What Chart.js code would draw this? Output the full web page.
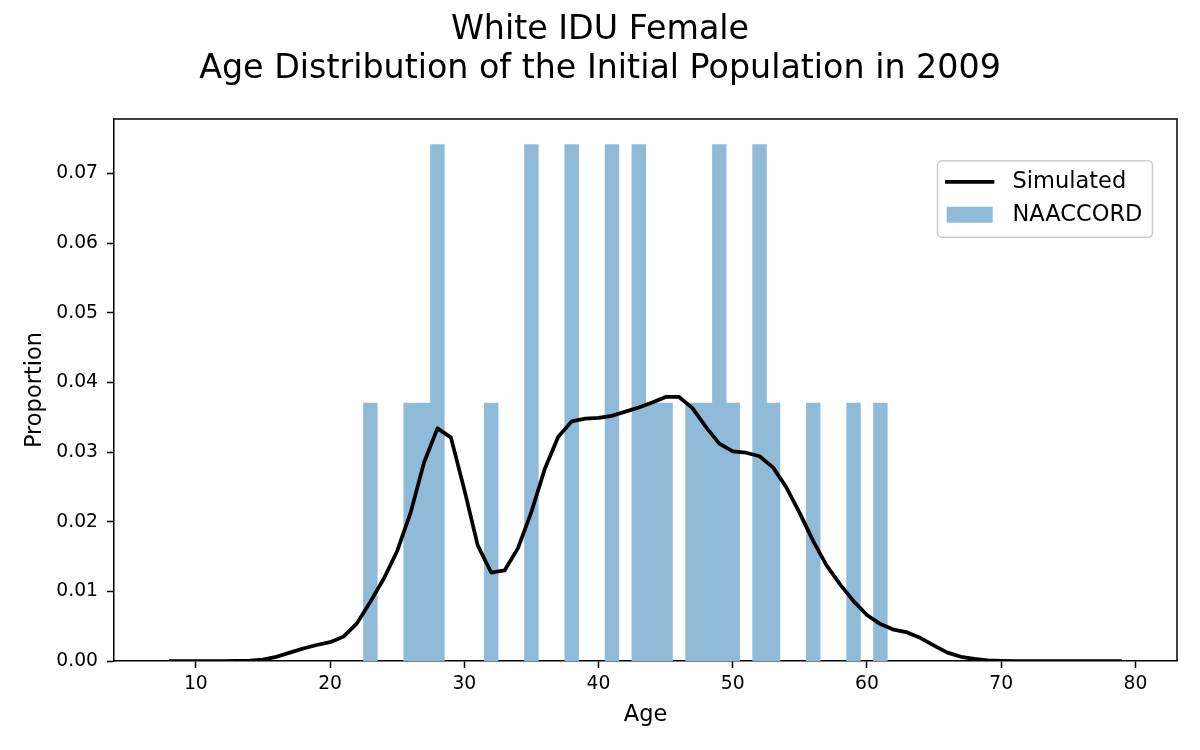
<!DOCTYPE html>
<html>
<head>
<meta charset="utf-8">
<script src="https://cdn.jsdelivr.net/npm/chart.js@4/dist/chart.umd.min.js"></script>
<style>
html,body{margin:0;padding:0;background:#ffffff;}
#wrap{width:1200px;height:750px;}
</style>
</head>
<body>
<div id="wrap"><canvas id="c" width="1200" height="750"></canvas></div>
<script>
// ---- data ----
const titleLines = ['White IDU Female', 'Age Distribution of the Initial Population in 2009'];
const xLabel = 'Age';
const yLabel = 'Proportion';
const seriesNames = ['Simulated', 'NAACCORD'];

const simAges = [8,9,10,11,12,13,14,15,16,17,18,19,20,21,22,23,24,25,26,27,28,29,30,31,32,33,34,35,36,37,38,39,40,41,42,43,44,45,46,47,48,49,50,51,52,53,54,55,56,57,58,59,60,61,62,63,64,65,66,67,68,69,70,71,72,73,74,75,76,77,78,79];
const simValues = [0,0,0,0,0,0.00002,0.00005,0.0002,0.0006,0.0012,0.0018,0.0023,0.0027,0.0035,0.0054,0.0085,0.0118,0.0158,0.0213,0.0285,0.0334,0.0321,0.0246,0.0166,0.0127,0.0130,0.0162,0.0214,0.0276,0.0322,0.0344,0.0348,0.0349,0.0352,0.0358,0.0364,0.0371,0.0379,0.0379,0.0363,0.0336,0.0312,0.0301,0.0299,0.0294,0.0278,0.0249,0.0212,0.0172,0.0137,0.0110,0.0086,0.0066,0.0053,0.0045,0.0041,0.0033,0.0022,0.0012,0.0006,0.0003,0.0001,0.00003,0,0,0,0,0,0,0,0,0];

const binAges = [23,24,25,26,27,28,29,30,31,32,33,34,35,36,37,38,39,40,41,42,43,44,45,46,47,48,49,50,51,52,53,54,55,56,57,58,59,60,61];
const binValues = [0.0370,0,0,0.0370,0.0370,0.0741,0,0,0,0.0370,0,0,0.0741,0,0,0.0741,0,0,0.0741,0,0.0741,0.0370,0.0370,0,0.0370,0.0370,0.0741,0.0370,0,0.0741,0.0370,0,0,0.0370,0,0,0.0370,0,0.0370];

const xTicks = [10,20,30,40,50,60,70,80];
const yTicks = [0,0.01,0.02,0.03,0.04,0.05,0.06,0.07];
const xRange = [3.9, 83.1];
const yRange = [0, 0.0778];

// ---- styles ----
const FONT = 'DejaVu Sans';
const barColor = '#8fbbd9';
const lineColor = '#000000';

Chart.defaults.font.family = FONT;
Chart.defaults.color = '#000000';

const framePlugin = {
  id: 'frame',
  afterDraw(chart) {
    const {ctx, chartArea: a} = chart;
    ctx.save();
    ctx.strokeStyle = '#000000';
    ctx.lineWidth = 1.5;
    ctx.beginPath();
    ctx.moveTo(a.left, a.top);
    ctx.lineTo(a.right, a.top);
    ctx.lineTo(a.right, a.bottom);
    ctx.stroke();
    ctx.restore();
  }
};

const legendPlugin = {
  id: 'boxLegend',
  afterDraw(chart) {
    const {ctx, chartArea: a} = chart;
    const x0 = a.right - 239.5, y0 = a.top + 41.7, w = 215, h = 76.6;
    ctx.save();
    ctx.beginPath();
    ctx.roundRect(x0, y0, w, h, 4.5);
    ctx.fillStyle = 'rgba(255,255,255,0.8)';
    ctx.fill();
    ctx.strokeStyle = '#cccccc';
    ctx.lineWidth = 1.5;
    ctx.stroke();
    const ds = chart.data.datasets;
    const r1 = y0 + 21, r2 = y0 + 54;
    ctx.strokeStyle = ds[0].borderColor;
    ctx.lineWidth = ds[0].borderWidth;
    ctx.lineCap = 'square';
    ctx.beginPath();
    ctx.moveTo(x0 + 9.5, r1);
    ctx.lineTo(x0 + 55, r1);
    ctx.stroke();
    ctx.fillStyle = ds[1].backgroundColor;
    ctx.fillRect(x0 + 9.2, r2 - 8, 46, 16);
    ctx.fillStyle = '#000000';
    ctx.font = '22.5px "' + FONT + '"';
    ctx.textBaseline = 'middle';
    ctx.textAlign = 'left';
    ctx.fillText(ds[0].label, x0 + 75, r1);
    ctx.fillText(ds[1].label, x0 + 75, r2);
    ctx.restore();
  }
};

new Chart(document.getElementById('c'), {
  type: 'bar',
  data: {
    datasets: [
      {
        type: 'line',
        label: seriesNames[0],
        data: simAges.map((a, i) => ({x: a, y: simValues[i]})),
        borderColor: lineColor,
        backgroundColor: lineColor,
        borderWidth: 3.75,
        pointRadius: 0,
        tension: 0,
        borderJoinStyle: 'round',
        fill: false,
        order: 0
      },
      {
        type: 'bar',
        label: seriesNames[1],
        // empty bins are kept on the axis but not painted
        data: binAges.map((a, i) => ({x: a, y: binValues[i] === 0 ? null : binValues[i]})),
        backgroundColor: barColor,
        borderWidth: 0,
        barPercentage: 1,
        categoryPercentage: 1,
        inflateAmount: 0.5,
        order: 1
      }
    ]
  },
  options: {
    responsive: false,
    animation: false,
    devicePixelRatio: 1,
    layout: {padding: {top: 0, left: 0, right: 0, bottom: 0}},
    plugins: {
      legend: {display: false},
      tooltip: {enabled: false},
      title: {
        display: true,
        text: titleLines,
        color: '#000000',
        font: {family: FONT, size: 33.3, weight: 'normal', lineHeight: 1.16},
        padding: {top: 11.4, bottom: 30.4}
      }
    },
    scales: {
      x: {
        type: 'linear',
        min: xRange[0],
        max: xRange[1],
        offset: false,
        afterBuildTicks: s => { s.ticks = xTicks.map(v => ({value: v})); },
        afterFit: s => { s.height = 89; },
        grid: {display: true, drawOnChartArea: false, drawTicks: true, tickLength: 7, tickWidth: 1.5, tickColor: '#000000', offset: false},
        border: {display: true, color: '#000000', width: 1.5},
        ticks: {color: '#000000', font: {family: FONT, size: 18.75}, padding: 5, maxRotation: 0, autoSkip: false, callback: v => String(v)},
        title: {display: true, text: xLabel, color: '#000000', font: {family: FONT, size: 22.5}, padding: {top: 0, bottom: 21}}
      },
      y: {
        type: 'linear',
        min: yRange[0],
        max: yRange[1],
        afterBuildTicks: s => { s.ticks = yTicks.map(v => ({value: v})); },
        afterFit: s => { s.width = 114; },
        grid: {display: true, drawOnChartArea: false, drawTicks: true, tickLength: 7, tickWidth: 1.5, tickColor: '#000000'},
        border: {display: true, color: '#000000', width: 1.5},
        ticks: {color: '#000000', font: {family: FONT, size: 18.75}, padding: 9, callback: v => Number(v).toFixed(2)},
        title: {display: true, text: yLabel, color: '#000000', font: {family: FONT, size: 22.5}, padding: {top: 21.5, bottom: 0}}
      },
      rightGap: {
        type: 'linear',
        position: 'right',
        display: true,
        afterFit: s => { s.width = 23; },
        grid: {display: false, drawTicks: false},
        border: {display: false},
        ticks: {display: false},
        title: {display: false}
      }
    }
  },
  plugins: [framePlugin, legendPlugin]
});
</script>
</body>
</html>
